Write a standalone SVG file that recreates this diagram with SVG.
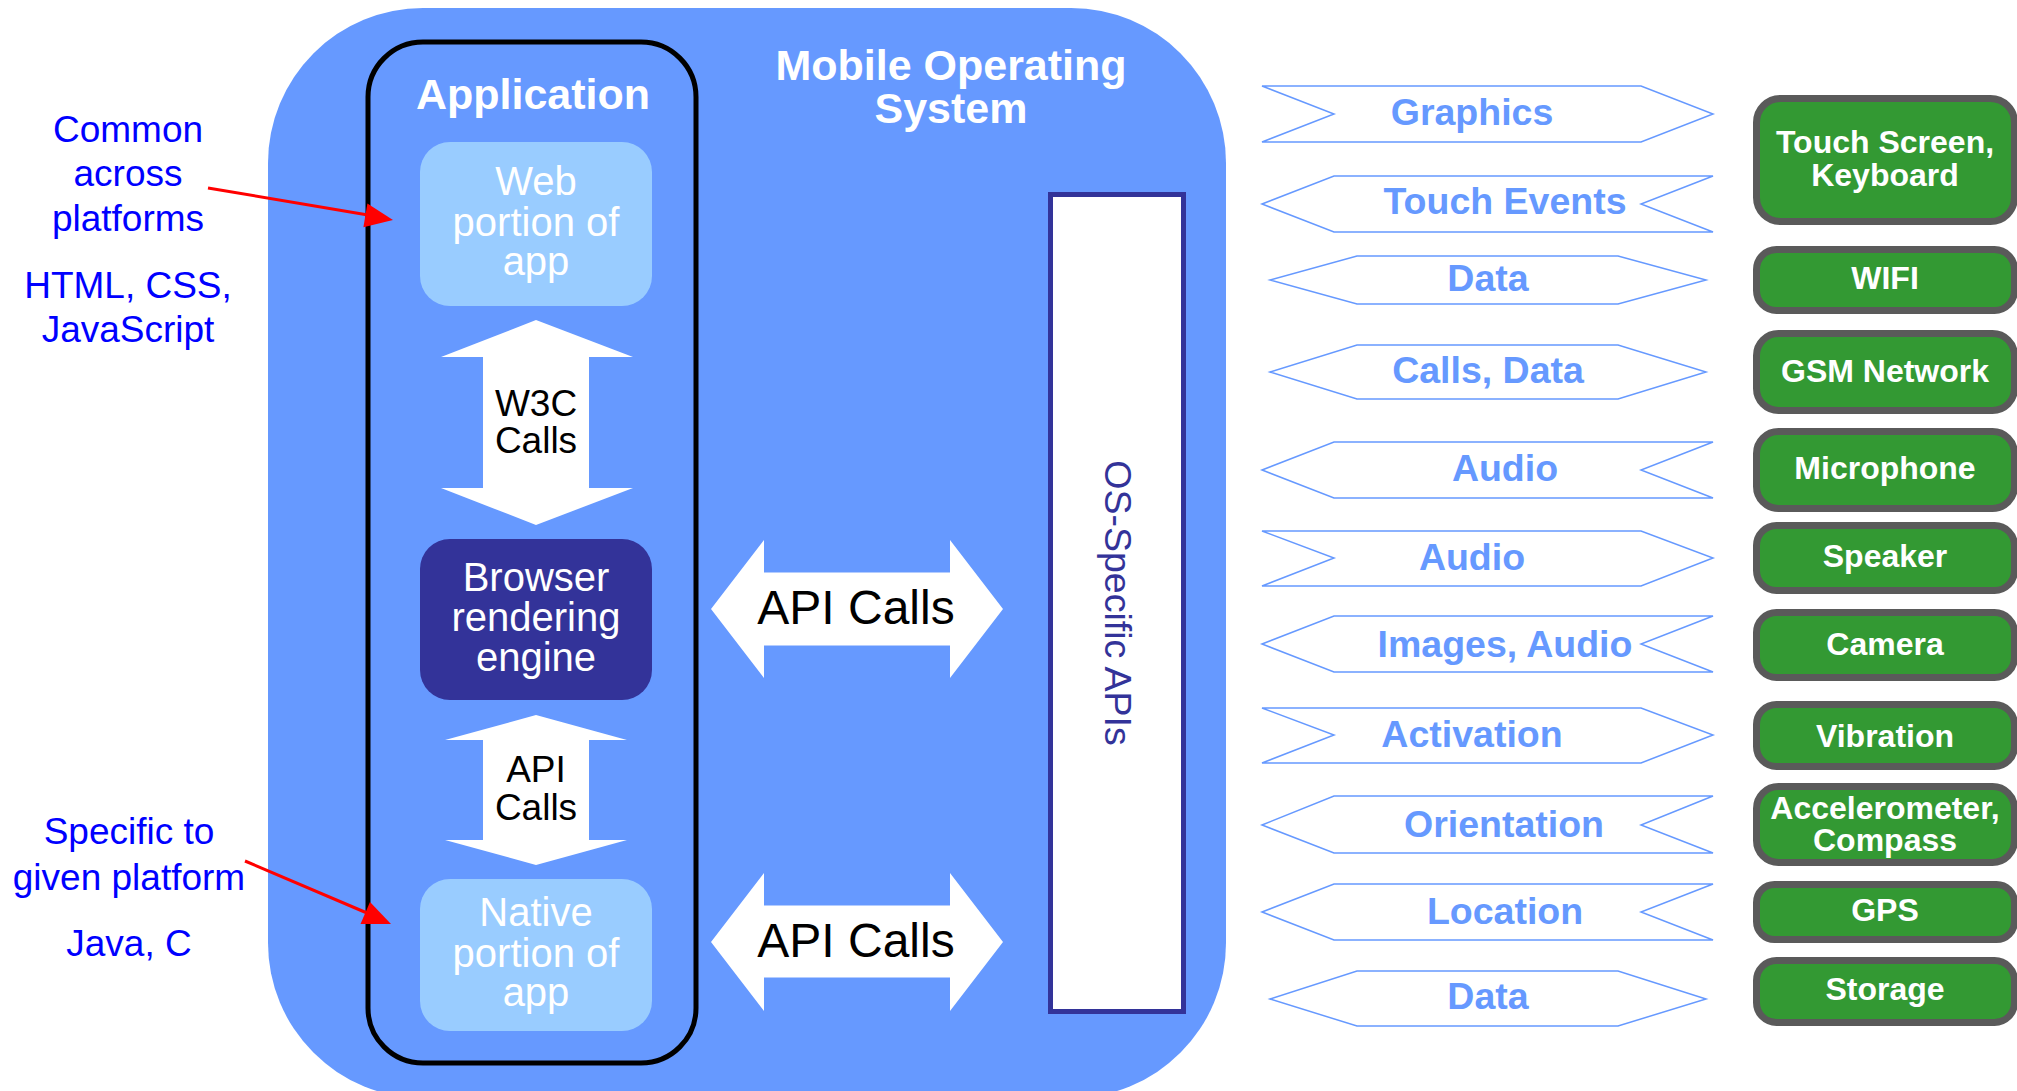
<svg xmlns="http://www.w3.org/2000/svg" width="2017" height="1091" viewBox="0 0 2017 1091">
  <style>
    text { font-family: "Liberation Sans", Arial, sans-serif; }
    .title { fill: #ffffff; font-weight: bold; font-size: 43px; text-anchor: middle; }
    .app { fill: #ffffff; font-size: 40px; text-anchor: middle; }
    .callLbl { fill: #000000; font-size: 37px; text-anchor: middle; }
    .bigCall { fill: #000000; font-size: 48px; text-anchor: middle; }
    .note { fill: #0000ff; font-size: 37px; text-anchor: middle; }
    .flow { fill: #ffffff; stroke: #6699ff; stroke-width: 1.5; }
    .flowLbl { fill: #6699ff; font-weight: bold; font-size: 37.5px; text-anchor: middle; }
    .hw { fill: #339933; stroke: #5a5a5a; stroke-width: 7; }
    .hwLbl { fill: #ffffff; font-weight: bold; font-size: 32px; text-anchor: middle; }
    .softBox { fill: #99ccff; }
    .whiteArrow { fill: #ffffff; }
    .pointer { stroke: #ff0000; stroke-width: 3; fill: none; }
    .pointerHead { fill: #ff0000; }
  </style>

  <!-- Mobile operating system container -->
  <g id="mobile-os">
    <rect x="268" y="8" width="958" height="1090" rx="155" ry="155" fill="#6699ff"/>
    <text class="title" x="951" y="80">Mobile Operating</text>
    <text class="title" x="951" y="123">System</text>
  </g>

  <!-- Application frame -->
  <g id="application">
    <rect x="368" y="42" width="328" height="1021" rx="55" ry="55" fill="none" stroke="#000000" stroke-width="5"/>
    <text class="title" x="533" y="109">Application</text>
  </g>

  <g id="web-portion">
    <rect class="softBox" x="420" y="142" width="232" height="164" rx="30" ry="30"/>
    <text class="app" x="536" y="195">Web</text>
    <text class="app" x="536" y="236">portion of</text>
    <text class="app" x="536" y="275">app</text>
  </g>

  <g id="browser-engine">
    <rect x="420" y="539" width="232" height="161" rx="30" ry="30" fill="#333399"/>
    <text class="app" x="536" y="591">Browser</text>
    <text class="app" x="536" y="631">rendering</text>
    <text class="app" x="536" y="671">engine</text>
  </g>

  <g id="native-portion">
    <rect class="softBox" x="420" y="879" width="232" height="152" rx="30" ry="30"/>
    <text class="app" x="536" y="926">Native</text>
    <text class="app" x="536" y="967">portion of</text>
    <text class="app" x="536" y="1006">app</text>
  </g>

  <g id="os-specific-apis">
    <rect x="1050.5" y="194.5" width="133" height="817" fill="#ffffff" stroke="#333399" stroke-width="5"/>
    <text x="0" y="0" transform="translate(1105,603) rotate(90)" fill="#333399" font-size="37.5" text-anchor="middle">OS-Specific APIs</text>
  </g>

  <!-- Side notes -->
  <g id="note-common">
    <text class="note" x="128" y="142">Common</text>
    <text class="note" x="128" y="186">across</text>
    <text class="note" x="128" y="231">platforms</text>
    <text class="note" x="128" y="298">HTML, CSS,</text>
    <text class="note" x="128" y="342">JavaScript</text>
  </g>
  <g id="note-specific">
    <text class="note" x="129" y="844">Specific to</text>
    <text class="note" x="129" y="890">given platform</text>
    <text class="note" x="129" y="956">Java, C</text>
  </g>

  <!-- Hardware components -->
  <g id="hw-touch">
    <rect class="hw" x="1756.5" y="98.5" width="258" height="123" rx="24" ry="24"/>
    <text class="hwLbl" x="1885" y="153">Touch Screen,</text>
    <text class="hwLbl" x="1885" y="186">Keyboard</text>
  </g>
  <g id="hw-wifi">
    <rect class="hw" x="1756.5" y="249.5" width="258" height="61" rx="20" ry="20"/>
    <text class="hwLbl" x="1885" y="289">WIFI</text>
  </g>
  <g id="hw-gsm">
    <rect class="hw" x="1756.5" y="333.5" width="258" height="77" rx="22" ry="22"/>
    <text class="hwLbl" x="1885" y="382">GSM Network</text>
  </g>
  <g id="hw-microphone">
    <rect class="hw" x="1756.5" y="431.5" width="258" height="77" rx="22" ry="22"/>
    <text class="hwLbl" x="1885" y="479">Microphone</text>
  </g>
  <g id="hw-speaker">
    <rect class="hw" x="1756.5" y="525.5" width="258" height="65" rx="20" ry="20"/>
    <text class="hwLbl" x="1885" y="567">Speaker</text>
  </g>
  <g id="hw-camera">
    <rect class="hw" x="1756.5" y="612.5" width="258" height="65" rx="20" ry="20"/>
    <text class="hwLbl" x="1885" y="655">Camera</text>
  </g>
  <g id="hw-vibration">
    <rect class="hw" x="1756.5" y="704.5" width="258" height="62" rx="20" ry="20"/>
    <text class="hwLbl" x="1885" y="747">Vibration</text>
  </g>
  <g id="hw-accelerometer">
    <rect class="hw" x="1756.5" y="786.5" width="258" height="76" rx="22" ry="22"/>
    <text class="hwLbl" x="1885" y="819">Accelerometer,</text>
    <text class="hwLbl" x="1885" y="851">Compass</text>
  </g>
  <g id="hw-gps">
    <rect class="hw" x="1756.5" y="884.5" width="258" height="55" rx="18" ry="18"/>
    <text class="hwLbl" x="1885" y="921">GPS</text>
  </g>
  <g id="hw-storage">
    <rect class="hw" x="1756.5" y="960.5" width="258" height="62" rx="20" ry="20"/>
    <text class="hwLbl" x="1885" y="1000">Storage</text>
  </g>

  <!-- Connectors -->
  <g id="connectors">
    <!-- W3C calls between web portion and browser engine -->
    <polygon class="whiteArrow" points="536,320 633,357 589,357 589,488 633,488 536,525 441,488 483,488 483,357 441,357"/>
    <text class="callLbl" x="536" y="416">W3C</text>
    <text class="callLbl" x="536" y="453">Calls</text>

    <!-- API calls between browser engine and native portion -->
    <polygon class="whiteArrow" points="536,715 627,740 589,740 589,840 627,840 536,865 445,840 483,840 483,740 445,740"/>
    <text class="callLbl" x="536" y="782">API</text>
    <text class="callLbl" x="536" y="820">Calls</text>

    <!-- API calls to OS-specific APIs -->
    <polygon class="whiteArrow" points="711,609 764,540 764,572.5 950,572.5 950,540 1003,609 950,678 950,645.5 764,645.5 764,678"/>
    <text class="bigCall" x="856" y="624">API Calls</text>
    <polygon class="whiteArrow" points="711,942 764,873 764,905.5 950,905.5 950,873 1003,942 950,1011 950,977.5 764,977.5 764,1011"/>
    <text class="bigCall" x="856" y="957">API Calls</text>

    <!-- Note pointers -->
    <line class="pointer" x1="208" y1="188" x2="368" y2="215"/>
    <polygon class="pointerHead" points="393,220 363.4,227.2 367.4,203.6"/>
    <line class="pointer" x1="245" y1="861" x2="367" y2="913"/>
    <polygon class="pointerHead" points="391,924 360.5,923.9 370,901.9"/>

    <!-- Data flows between OS and hardware -->
    <polygon class="flow" points="1262,86 1641,86 1713,114 1641,142 1262,142 1334,114"/>
    <text class="flowLbl" x="1472" y="125">Graphics</text>

    <polygon class="flow" points="1262,204 1334,176 1713,176 1641,204 1713,232 1334,232"/>
    <text class="flowLbl" x="1505" y="214">Touch Events</text>

    <polygon class="flow" points="1270,280 1357,256 1618,256 1706,280 1618,304 1357,304"/>
    <text class="flowLbl" x="1488" y="291">Data</text>

    <polygon class="flow" points="1270,372 1357,345 1618,345 1706,372 1618,399 1357,399"/>
    <text class="flowLbl" x="1488" y="383">Calls, Data</text>

    <polygon class="flow" points="1262,470 1334,442 1713,442 1641,470 1713,498 1334,498"/>
    <text class="flowLbl" x="1505" y="481">Audio</text>

    <polygon class="flow" points="1262,531 1641,531 1713,558 1641,586 1262,586 1334,558"/>
    <text class="flowLbl" x="1472" y="570">Audio</text>

    <polygon class="flow" points="1262,644 1334,616 1713,616 1641,644 1713,672 1334,672"/>
    <text class="flowLbl" x="1505" y="657">Images, Audio</text>

    <polygon class="flow" points="1262,708 1641,708 1713,735 1641,763 1262,763 1334,735"/>
    <text class="flowLbl" x="1472" y="747">Activation</text>

    <polygon class="flow" points="1262,825 1334,796 1713,796 1641,825 1713,853 1334,853"/>
    <text class="flowLbl" x="1504" y="837">Orientation</text>

    <polygon class="flow" points="1262,912 1334,884 1713,884 1641,912 1713,940 1334,940"/>
    <text class="flowLbl" x="1505" y="924">Location</text>

    <polygon class="flow" points="1270,999 1357,971 1618,971 1706,999 1618,1026 1357,1026"/>
    <text class="flowLbl" x="1488" y="1009">Data</text>
  </g>
</svg>
